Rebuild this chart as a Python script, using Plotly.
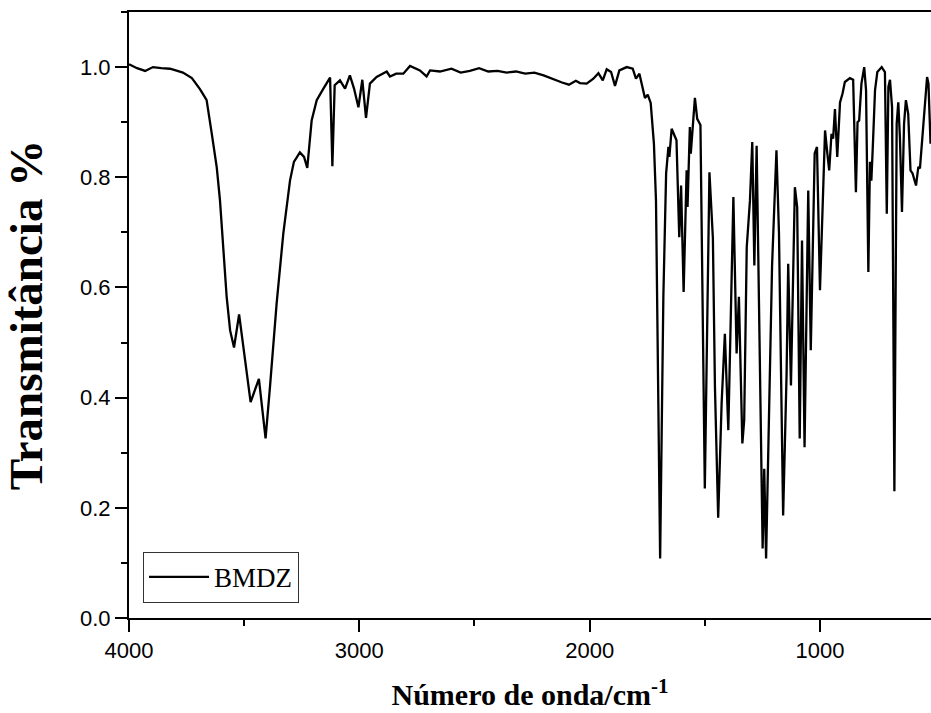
import plotly.graph_objects as go

wavenumber = [
    4000, 3965, 3930, 3896, 3860, 3822, 3790, 3766, 3727, 3692, 3670, 3663, 3641, 3619, 3605,
    3590, 3576, 3561, 3544, 3522, 3504, 3472, 3436, 3407, 3388, 3359, 3330, 3301, 3284, 3258,
    3240, 3226, 3207, 3185, 3156, 3127, 3117, 3107, 3084, 3062, 3041, 3023, 3004, 2987, 2971,
    2954, 2925, 2881, 2867, 2840, 2809, 2780, 2737, 2708, 2693, 2650, 2600, 2560, 2520, 2480,
    2440, 2400, 2360, 2320, 2280, 2240, 2200, 2160, 2120, 2090, 2060, 2042, 2013, 1984, 1962,
    1943, 1926, 1907, 1890, 1871, 1839, 1813, 1799, 1784, 1760, 1748, 1735, 1721, 1712, 1694,
    1680, 1668, 1658, 1654, 1644, 1623, 1611, 1603, 1592, 1579, 1575, 1565, 1561, 1543, 1533,
    1519, 1500, 1480, 1465, 1456, 1442, 1427, 1413, 1398, 1388, 1376, 1362, 1352, 1337, 1329,
    1318, 1304, 1294, 1285, 1275, 1249, 1242, 1234, 1208, 1189, 1178, 1160, 1145, 1138, 1126,
    1109, 1099, 1088, 1078, 1067, 1051, 1040, 1023, 1013, 1000, 978, 968, 960, 950, 943,
    935, 925, 913, 902, 892, 870, 856, 844, 837, 830, 820, 808, 800, 790, 783,
    777, 771, 761, 751, 732, 718, 710, 703, 696, 687, 677, 667, 660, 653, 644,
    635, 627, 617, 607, 598, 583, 573, 566, 552, 535, 529, 520,
]
transmittance = [
    1.005, 0.998, 0.993, 1.000, 0.998, 0.997, 0.993, 0.990, 0.980, 0.960, 0.945, 0.940, 0.880, 0.818, 0.758,
    0.662, 0.583, 0.522, 0.491, 0.551, 0.492, 0.392, 0.434, 0.326, 0.419, 0.571, 0.698, 0.794, 0.828, 0.845,
    0.837, 0.817, 0.903, 0.940, 0.961, 0.981, 0.820, 0.967, 0.976, 0.961, 0.985, 0.961, 0.927, 0.977, 0.908,
    0.970, 0.982, 0.992, 0.983, 0.988, 0.988, 1.002, 0.994, 0.983, 0.994, 0.992, 0.997, 0.990, 0.993, 0.998,
    0.992, 0.993, 0.990, 0.992, 0.988, 0.990, 0.985, 0.978, 0.972, 0.968, 0.975, 0.971, 0.970, 0.979, 0.989,
    0.976, 0.996, 0.991, 0.966, 0.994, 1.000, 0.997, 0.979, 0.988, 0.944, 0.950, 0.935, 0.861, 0.758, 0.108,
    0.583, 0.807, 0.855, 0.837, 0.888, 0.867, 0.691, 0.785, 0.592, 0.8125, 0.746, 0.891, 0.843, 0.944, 0.906,
    0.895, 0.235, 0.809, 0.690, 0.419, 0.182, 0.390, 0.516, 0.341, 0.550, 0.764, 0.480, 0.583, 0.317, 0.359,
    0.673, 0.758, 0.864, 0.640, 0.857, 0.126, 0.271, 0.108, 0.640, 0.849, 0.698, 0.186, 0.443, 0.643, 0.422,
    0.782, 0.746, 0.326, 0.685, 0.310, 0.776, 0.486, 0.843, 0.855, 0.595, 0.885, 0.843, 0.8125, 0.879, 0.870,
    0.924, 0.837, 0.936, 0.952, 0.973, 0.980, 0.977, 0.773, 0.900, 0.903, 0.970, 1.000, 0.958, 0.628, 0.828,
    0.794, 0.852, 0.958, 0.991, 1.000, 0.991, 0.734, 0.964, 0.977, 0.927, 0.230, 0.897, 0.936, 0.873, 0.737,
    0.897, 0.940, 0.915, 0.8125, 0.807, 0.785, 0.819, 0.816, 0.891, 0.982, 0.970, 0.861,
]

series_name = "BMDZ"
x_title = "Número de onda/cm<sup>-1</sup>"
y_title = "Transmitância %"

fig = go.Figure()
fig.add_trace(go.Scatter(
    x=wavenumber, y=transmittance, mode="lines", name=series_name,
    line=dict(color="black", width=2.3),
))

axis_common = dict(
    showgrid=False, zeroline=False, showline=True, linecolor="black", linewidth=2,
    ticks="outside", ticklen=12, tickwidth=2, tickcolor="black",
    tickfont=dict(family="Liberation Sans, Arial, sans-serif", size=22, color="black"),
)

fig.update_xaxes(
    **axis_common,
    range=[4000, 518], dtick=1000, tick0=0, mirror=True,
    minor=dict(dtick=500, ticklen=6, tickwidth=2, tickcolor="black", ticks="outside"),
    title=dict(text=x_title, standoff=22,
               font=dict(family="Liberation Serif, Times New Roman, serif", size=30, color="black",
                         weight="bold")),
)
fig.update_yaxes(
    **axis_common,
    range=[0, 1.1], dtick=0.2, tick0=0, tickformat=".1f",
    minor=dict(dtick=0.1, ticklen=6, tickwidth=2, tickcolor="black", ticks="outside"),
    title=dict(text=y_title, standoff=28,
               font=dict(family="Liberation Serif, Times New Roman, serif", size=47, color="black",
                         weight="bold")),
)

fig.update_layout(
    width=931, height=713,
    margin=dict(l=129, r=0, t=12, b=95),
    plot_bgcolor="white", paper_bgcolor="white",
    showlegend=True,
    legend=dict(
        x=0.0175, y=0.025, xanchor="left", yanchor="bottom",
        bordercolor="#333333", borderwidth=1, bgcolor="white",
        font=dict(family="Liberation Serif, Times New Roman, serif", size=27, color="black"),
        itemwidth=60, entrywidth=140, entrywidthmode="pixels",
    ),
)

fig.write_html("out.html")
